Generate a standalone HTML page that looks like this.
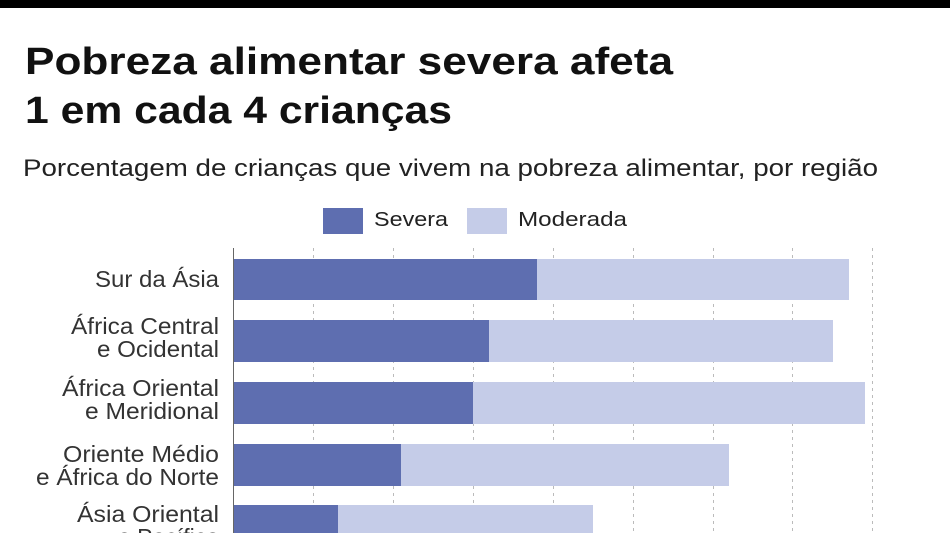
<!DOCTYPE html>
<html><head><meta charset="utf-8"><style>
html,body{margin:0;padding:0;background:#fff;}
svg{display:block;}
text{font-family:"Liberation Sans",sans-serif;}
</style></head><body>
<svg width="950" height="533" viewBox="0 0 950 533" xmlns="http://www.w3.org/2000/svg">
<rect x="0" y="0" width="950" height="8" fill="#000"/>
<text x="25" y="74" font-size="38" font-weight="bold" fill="#111" textLength="648" lengthAdjust="spacingAndGlyphs">Pobreza alimentar severa afeta</text>
<text x="25" y="123" font-size="38" font-weight="bold" fill="#111" textLength="427" lengthAdjust="spacingAndGlyphs">1 em cada 4 crianças</text>
<text x="23" y="176" font-size="24" fill="#222" textLength="855" lengthAdjust="spacingAndGlyphs">Porcentagem de crianças que vivem na pobreza alimentar, por região</text>
<rect x="323" y="208" width="40" height="26" fill="#5e6eb0"/>
<text x="374" y="226" font-size="20" fill="#222" textLength="74" lengthAdjust="spacingAndGlyphs">Severa</text>
<rect x="467" y="208" width="40" height="26" fill="#c5cce8"/>
<text x="518" y="226" font-size="20" fill="#222" textLength="109" lengthAdjust="spacingAndGlyphs">Moderada</text>
<g stroke="#bbb" stroke-width="1" stroke-dasharray="3,4">
<line x1="313.5" y1="248" x2="313.5" y2="533"/>
<line x1="393.5" y1="248" x2="393.5" y2="533"/>
<line x1="473.5" y1="248" x2="473.5" y2="533"/>
<line x1="553.5" y1="248" x2="553.5" y2="533"/>
<line x1="633.5" y1="248" x2="633.5" y2="533"/>
<line x1="713.5" y1="248" x2="713.5" y2="533"/>
<line x1="792.5" y1="248" x2="792.5" y2="533"/>
<line x1="872.5" y1="248" x2="872.5" y2="533"/>
</g>
<g fill="#c5cce8">
<rect x="233" y="259" width="616" height="41"/>
<rect x="233" y="320" width="600" height="42"/>
<rect x="233" y="382" width="632" height="42"/>
<rect x="233" y="444" width="496" height="42"/>
<rect x="233" y="505" width="360" height="42"/>
</g>
<g fill="#5e6eb0">
<rect x="233" y="259" width="304" height="41"/>
<rect x="233" y="320" width="256" height="42"/>
<rect x="233" y="382" width="240" height="42"/>
<rect x="233" y="444" width="168" height="42"/>
<rect x="233" y="505" width="105" height="42"/>
</g>
<line x1="233.5" y1="248" x2="233.5" y2="533" stroke="#666" stroke-width="1"/>
<g font-size="23" fill="#333" text-anchor="end">
<text x="219" y="287" textLength="124" lengthAdjust="spacingAndGlyphs">Sur da Ásia</text>
<text x="219" y="334" textLength="148" lengthAdjust="spacingAndGlyphs">África Central</text>
<text x="219" y="357" textLength="122" lengthAdjust="spacingAndGlyphs">e Ocidental</text>
<text x="219" y="396" textLength="157" lengthAdjust="spacingAndGlyphs">África Oriental</text>
<text x="219" y="419" textLength="134" lengthAdjust="spacingAndGlyphs">e Meridional</text>
<text x="219" y="462" textLength="156" lengthAdjust="spacingAndGlyphs">Oriente Médio</text>
<text x="219" y="485" textLength="183" lengthAdjust="spacingAndGlyphs">e África do Norte</text>
<text x="219" y="522" textLength="142" lengthAdjust="spacingAndGlyphs">Ásia Oriental</text>
<text x="219" y="545">e Pacífico</text>
</g>
</svg>
</body></html>
